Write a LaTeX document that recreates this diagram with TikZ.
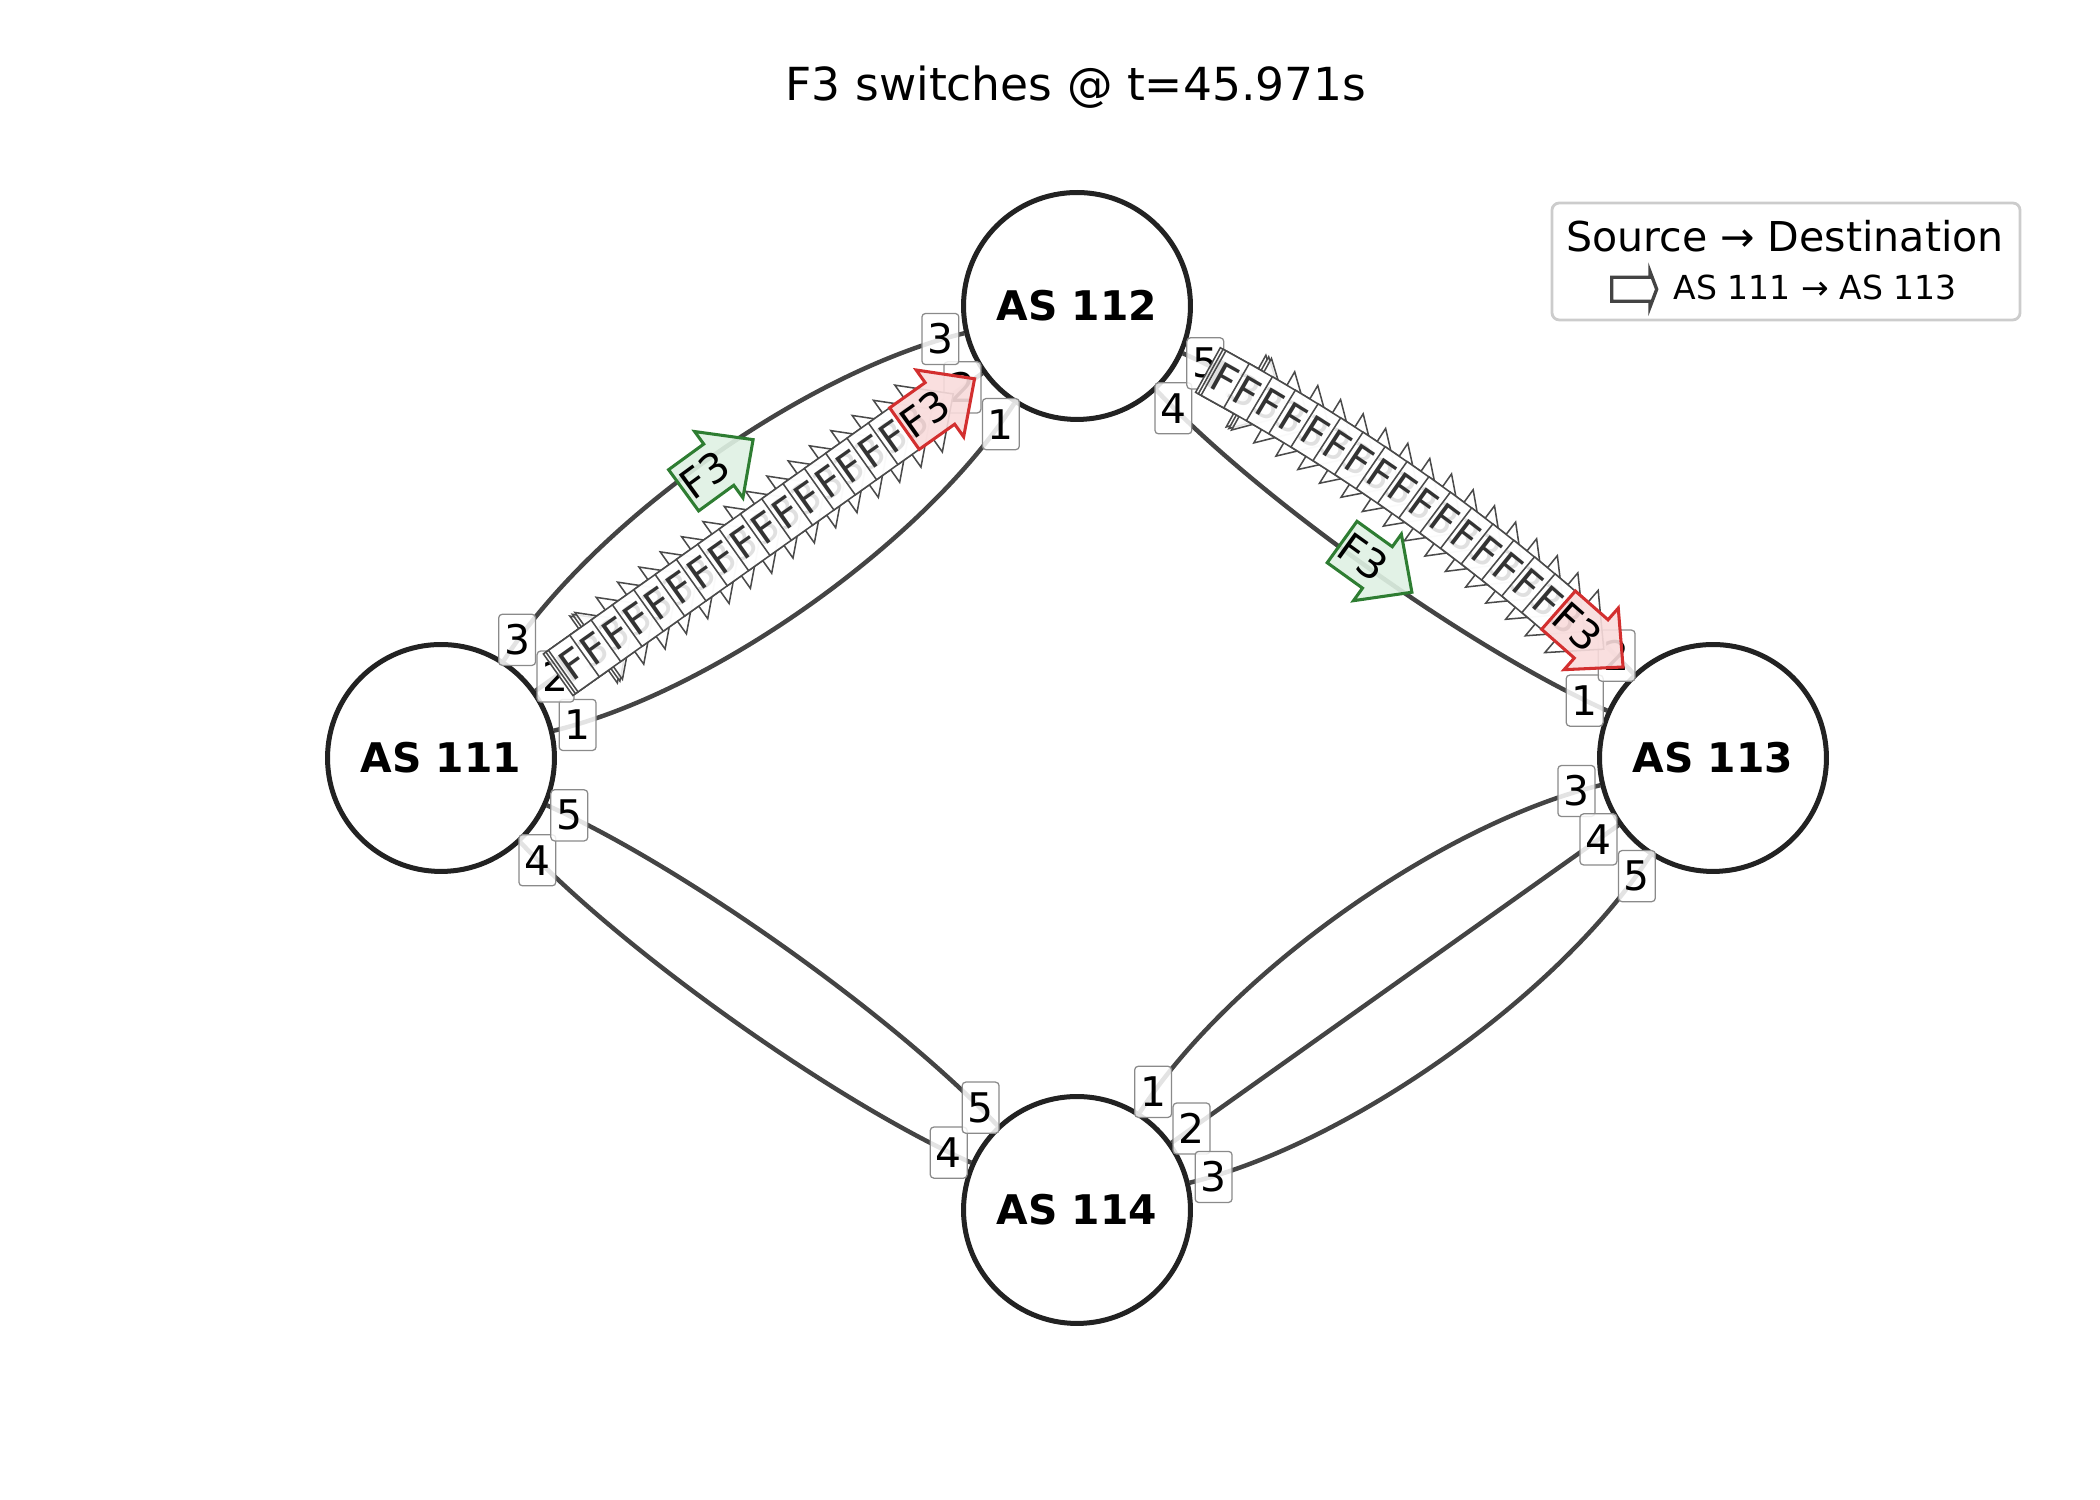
\documentclass[tikz,border=0pt]{standalone}
\usepackage{fontspec}
\setmainfont{DejaVu Sans}
\usetikzlibrary{calc,backgrounds}
\definecolor{edgegray}{HTML}{444444}
\definecolor{nodeblack}{HTML}{222222}
\definecolor{lblgray}{HTML}{8A8A8A}
\definecolor{legendgray}{HTML}{CCCCCC}
\definecolor{redline}{HTML}{D32F2F}
\definecolor{redfill}{HTML}{F9DCDC}
\definecolor{greenline}{HTML}{2E7D32}
\definecolor{greenfill}{HTML}{DFF1E3}
\definecolor{stackline}{HTML}{4A4A4A}
\tikzset{
  asnode/.style={circle, draw=nodeblack, line width=1.8pt, fill=white, minimum size=81.7pt, inner sep=0pt, font=\bfseries\fontsize{14.7}{17}\selectfont},
  linkline/.style={draw=edgegray, line width=1.6pt},
  portlbl/.style={draw=lblgray, line width=0.45pt, rounded corners=1.3pt, fill=white, fill opacity=0.85, text opacity=1, inner sep=0pt, minimum width=13.3pt, minimum height=18.4pt, font=\fontsize{14.7}{17}\selectfont},
  flowtxt/.style={inner sep=0pt, font=\fontsize{14.7}{17}\selectfont},
  pics/whitearrow/.style={code={
    \path[draw=stackline, line width=0.55pt, fill=white, fill opacity=0.85, line join=miter]
      (-25.6,-25.5) -- (17.9,-25.5) -- (17.9,-41) -- (60.4,0) -- (17.9,41) -- (17.9,25.5) -- (-25.6,25.5) -- cycle;
    \node[transform shape, flowtxt, text=black!80] at (0,0) {F3};
  }},
  pics/redarrow/.style={code={
    \path[draw=redline, line width=1.1pt, fill=redfill, fill opacity=0.9, line join=miter]
      (-25.6,-25.5) -- (17.9,-25.5) -- (17.9,-41) -- (60.4,0) -- (17.9,41) -- (17.9,25.5) -- (-25.6,25.5) -- cycle;
    \node[transform shape, flowtxt, text=black] at (0,0) {F3};
  }},
  pics/greenarrow/.style={code={
    \path[draw=greenline, line width=1.1pt, fill=greenfill, fill opacity=0.9, line join=miter]
      (-25.6,-25.5) -- (17.9,-25.5) -- (17.9,-41) -- (60.4,0) -- (17.9,41) -- (17.9,25.5) -- (-25.6,25.5) -- cycle;
    \node[transform shape, flowtxt, text=black] at (0,0) {F3};
  }}
}
\begin{document}
\begin{tikzpicture}[x=0.36pt, y=0.36pt]
\useasboundingbox (0,0) rectangle (2100,1500);

\node[font=\fontsize{16.4}{19}\selectfont, anchor=base, inner sep=0pt] (title) at (1076,1399) {F3 switches @ t=45.971s};

\node[asnode] (n111) at (441,742) {AS 111};
\node[asnode] (n112) at (1077,1194) {AS 112};
\node[asnode] (n113) at (1713,742) {AS 113};
\node[asnode] (n114) at (1077,290) {AS 114};

\coordinate (qa3) at (668.6,1095.2);
\coordinate (qa1) at (849.4,840.8);
\coordinate (qb5) at (1440.2,1031.6);
\coordinate (qb4) at (1349.8,904.4);
\coordinate (qc5) at (804.2,579.6);
\coordinate (qc4) at (713.8,452.4);
\coordinate (qd1) at (1304.6,643.2);
\coordinate (qd3) at (1485.4,388.8);

\begin{scope}[on background layer]
\draw[linkline] (n111) .. controls ($(n111.center)!2/3!(qa3)$) and ($(n112.center)!2/3!(qa3)$) .. (n112);
\draw[linkline] (n111) -- (n112);
\draw[linkline] (n111) .. controls ($(n111.center)!2/3!(qa1)$) and ($(n112.center)!2/3!(qa1)$) .. (n112);
\draw[linkline] (n112) .. controls ($(n112.center)!2/3!(qb5)$) and ($(n113.center)!2/3!(qb5)$) .. (n113);
\draw[linkline] (n112) .. controls ($(n112.center)!2/3!(qb4)$) and ($(n113.center)!2/3!(qb4)$) .. (n113);
\draw[linkline] (n111) .. controls ($(n111.center)!2/3!(qc5)$) and ($(n114.center)!2/3!(qc5)$) .. (n114);
\draw[linkline] (n111) .. controls ($(n111.center)!2/3!(qc4)$) and ($(n114.center)!2/3!(qc4)$) .. (n114);
\draw[linkline] (n114) .. controls ($(n114.center)!2/3!(qd1)$) and ($(n113.center)!2/3!(qd1)$) .. (n113);
\draw[linkline] (n114) -- (n113);
\draw[linkline] (n114) .. controls ($(n114.center)!2/3!(qd3)$) and ($(n113.center)!2/3!(qd3)$) .. (n113);
\end{scope}

% port labels AS 111
\node[portlbl] (l111a) at ($(n111.center)!50.6pt!(qa1)$) {1};
\node[portlbl] (l111b) at ($(n111.center)!50.6pt!(n112.center)$) {2};
\node[portlbl] (l111c) at ($(n111.center)!50.6pt!(qa3)$) {3};
\node[portlbl] (l111d) at ($(n111.center)!50.6pt!(qc4)$) {4};
\node[portlbl] (l111e) at ($(n111.center)!50.6pt!(qc5)$) {5};
% AS 112
\node[portlbl] (l112a) at ($(n112.center)!50.6pt!(qa1)$) {1};
\node[portlbl] (l112b) at ($(n112.center)!50.6pt!(n111.center)$) {2};
\node[portlbl] (l112c) at ($(n112.center)!50.6pt!(qa3)$) {3};
\node[portlbl] (l112d) at ($(n112.center)!50.6pt!(qb4)$) {4};
\node[portlbl] (l112e) at ($(n112.center)!50.6pt!(qb5)$) {5};
% AS 113
\node[portlbl] (l113a) at ($(n113.center)!50.6pt!(qb4)$) {1};
\node[portlbl] (l113b) at ($(n113.center)!50.6pt!(qb5)$) {2};
\node[portlbl] (l113c) at ($(n113.center)!50.6pt!(qd1)$) {3};
\node[portlbl] (l113d) at ($(n113.center)!50.6pt!(n114.center)$) {4};
\node[portlbl] (l113e) at ($(n113.center)!50.6pt!(qd3)$) {5};
% AS 114
\node[portlbl] (l114a) at ($(n114.center)!50.6pt!(qd1)$) {1};
\node[portlbl] (l114b) at ($(n114.center)!50.6pt!(n113.center)$) {2};
\node[portlbl] (l114c) at ($(n114.center)!50.6pt!(qd3)$) {3};
\node[portlbl] (l114d) at ($(n114.center)!50.6pt!(qc4)$) {4};
\node[portlbl] (l114e) at ($(n114.center)!50.6pt!(qc5)$) {5};

% stacked flow arrows on the old path
\foreach \t in {0.217,0.221,0.2250,0.2585,0.2921,0.3256,0.3591,0.3927,0.4262,0.4597,0.4932,0.5268,0.5603,0.5938,0.6274,0.6609,0.6944,0.7280}{
  \path (n111.center) -- (n112.center) pic[pos=\t, sloped] {whitearrow};
  \path (n112.center) .. controls ($(n112.center)!2/3!(qb5)$) and ($(n113.center)!2/3!(qb5)$) .. (n113.center) pic[pos=\t, sloped] {whitearrow};
}
\path (n111.center) -- (n112.center) pic[pos=0.7615, sloped] {redarrow};
\path (n112.center) .. controls ($(n112.center)!2/3!(qb5)$) and ($(n113.center)!2/3!(qb5)$) .. (n113.center) pic[pos=0.7615, sloped] {redarrow};

% new path
\path (n111.center) .. controls ($(n111.center)!2/3!(qa3)$) and ($(n112.center)!2/3!(qa3)$) .. (n112.center) pic[pos=0.485, sloped] {greenarrow};
\path (n112.center) .. controls ($(n112.center)!2/3!(qb4)$) and ($(n113.center)!2/3!(qb4)$) .. (n113.center) pic[pos=0.485, sloped] {greenarrow};

% legend
\node[draw=legendgray, line width=1pt, rounded corners=2.6pt, fill=white, minimum width=168.5pt, minimum height=42.1pt, inner sep=0pt] (legend) at (1786,1238.5) {};
\node[font=\fontsize{14.8}{17}\selectfont, anchor=base, inner sep=0pt] (legtitle) at (1785,1248.5) {Source → Destination};
\draw[draw=edgegray, line width=1.2pt, fill=white, line join=miter] (1611.7,1198.7) -- (1650,1198.7) -- (1650,1193) -- (1656.7,1210.7) -- (1650,1228.4) -- (1650,1222.7) -- (1611.7,1222.7) -- cycle;
\node[font=\fontsize{11.9}{14}\selectfont, anchor=base west, inner sep=0pt] (legentry) at (1673.3,1200) {AS 111 → AS 113};
\end{tikzpicture}
\end{document}
